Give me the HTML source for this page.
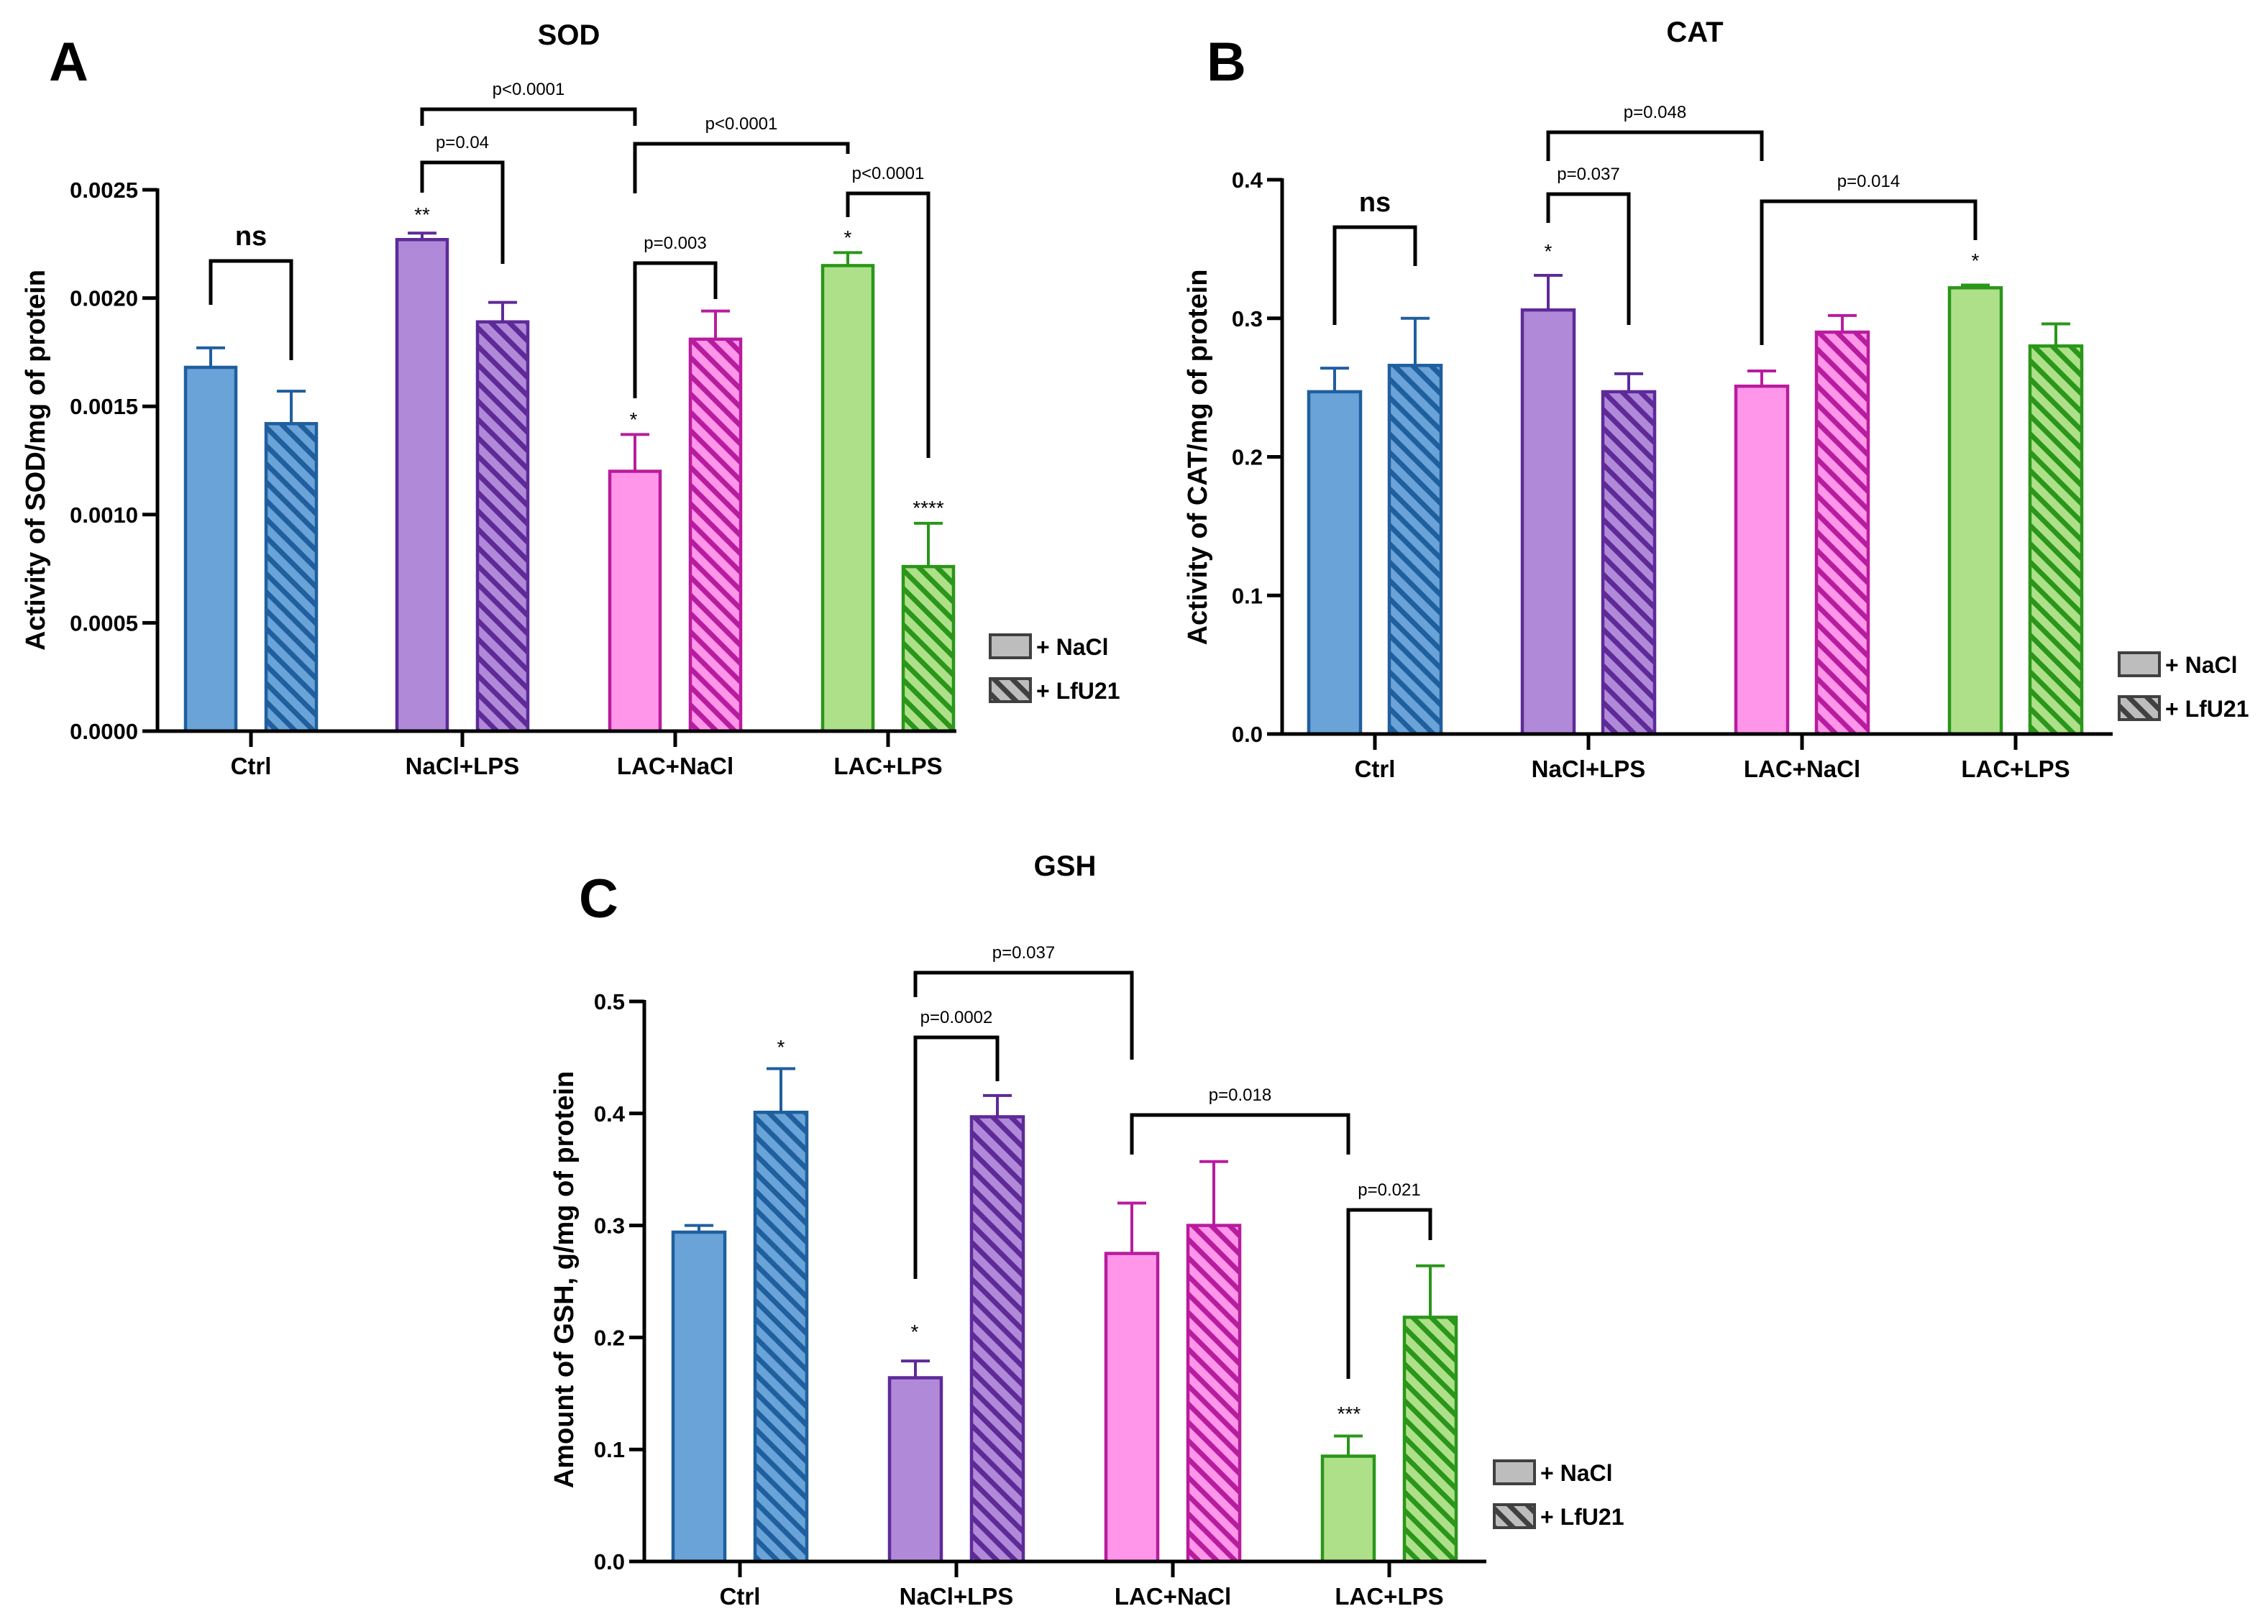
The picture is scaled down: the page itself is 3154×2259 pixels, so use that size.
<!DOCTYPE html>
<html><head><meta charset="utf-8"><style>
html,body{margin:0;padding:0;background:#fff;}
svg{display:block;font-family:"Liberation Sans",sans-serif;}
</style></head><body>
<svg id="fig" width="3154" height="2259" viewBox="0 0 3154 2259" xmlns="http://www.w3.org/2000/svg">
<defs>
<pattern id="h0" patternUnits="userSpaceOnUse" width="18" height="18" patternTransform="rotate(-45)"><rect width="18" height="18" fill="#6aa3d8"/><rect width="7" height="18" fill="#1f5f9e"/></pattern>
<pattern id="h1" patternUnits="userSpaceOnUse" width="18" height="18" patternTransform="rotate(-45)"><rect width="18" height="18" fill="#b08ad8"/><rect width="7" height="18" fill="#5e2a98"/></pattern>
<pattern id="h2" patternUnits="userSpaceOnUse" width="18" height="18" patternTransform="rotate(-45)"><rect width="18" height="18" fill="#ff96ea"/><rect width="7" height="18" fill="#b81c9e"/></pattern>
<pattern id="h3" patternUnits="userSpaceOnUse" width="18" height="18" patternTransform="rotate(-45)"><rect width="18" height="18" fill="#aee08a"/><rect width="7" height="18" fill="#2a961a"/></pattern>
<pattern id="hl" patternUnits="userSpaceOnUse" width="18" height="18" patternTransform="rotate(-45)"><rect width="18" height="18" fill="#bdbdbd"/><rect width="7" height="18" fill="#404040"/></pattern>
</defs>
</svg>
<script>
const categories = ["Ctrl","NaCl+LPS","LAC+NaCl","LAC+LPS"];
const sodNaCl = [0.00168,0.00227,0.00120,0.00215];
const sodNaClErr = [0.00177,0.00230,0.00137,0.00221];
const sodLfu = [0.00142,0.00189,0.00181,0.00076];
const sodLfuErr = [0.00157,0.00198,0.00194,0.00096];
const sodTicks = ["0.0000","0.0005","0.0010","0.0015","0.0020","0.0025"];
const catNaCl = [0.247,0.306,0.251,0.322];
const catNaClErr = [0.264,0.331,0.262,0.324];
const catLfu = [0.266,0.247,0.290,0.280];
const catLfuErr = [0.300,0.260,0.302,0.296];
const catTicks = ["0.0","0.1","0.2","0.3","0.4"];
const gshNaCl = [0.294,0.164,0.275,0.094];
const gshNaClErr = [0.300,0.179,0.320,0.112];
const gshLfu = [0.401,0.397,0.300,0.218];
const gshLfuErr = [0.440,0.416,0.357,0.264];
const gshTicks = ["0.0","0.1","0.2","0.3","0.4","0.5"];

const fills=["#6aa3d8","#b08ad8","#ff96ea","#aee08a"];
const strokes=["#1f5f9e","#5e2a98","#b81c9e","#2a961a"];
const NS="http://www.w3.org/2000/svg";
const svg=document.getElementById('fig');
function el(tag,attrs,parent,text){const e=document.createElementNS(NS,tag);for(const k in attrs)e.setAttribute(k,attrs[k]);if(text!==undefined)e.textContent=text;(parent||svg).appendChild(e);return e;}

const panels=[
 {key:"sod",letter:"A",title:"SOD",ytitle:"Activity of SOD/mg of protein",x0:219,x1:1330,y0:1017,y1:264,max:0.0025,ticksX:[349,643,939,1235],off:56,bw:70,
  nacl:sodNaCl,naclErr:sodNaClErr,lfu:sodLfu,lfuErr:sodLfuErr,ticks:sodTicks,
  letterPos:[68,112],titlePos:[791,62],ytPos:[52,640],leg:[1377,883],
  brackets:[[0,0,1,363,424,501,"ns",true],[1,0,1,226,268,367,"p=0.04"],[1,0,2,152,175,175,"p<0.0001",false,-1],[2,0,3,200,269,214,"p<0.0001",false,-1],[2,0,2.5,366,554,416,"p=0.003"],[3,0,3.5,269,302,637,"p<0.0001"]],
  stars:[[587,298,"**"],[881,583,"*"],[1179,330,"*"],[1291,706,"****"]]},
 {key:"cat",letter:"B",title:"CAT",ytitle:"Activity of CAT/mg of protein",x0:1783,x1:2938,y0:1021,y1:250,max:0.4,ticksX:[1912,2209,2506,2803],off:56,bw:72,
  nacl:catNaCl,naclErr:catNaClErr,lfu:catLfu,lfuErr:catLfuErr,ticks:catTicks,
  letterPos:[1678,112],titlePos:[2357,58],ytPos:[1668,636],leg:[2947,908],
  brackets:[[0,0,1,316,452,370,"ns",true],[1,0,2,184,224,224,"p=0.048",false,-1],[1,0,1,270,310,452,"p=0.037"],[2,0,3,280,480,334,"p=0.014",false,-1]],
  stars:[[2153,349,"*"],[2747,362,"*"]]},
 {key:"gsh",letter:"C",title:"GSH",ytitle:"Amount of GSH, g/mg of protein",x0:896,x1:2067,y0:2172,y1:1393,max:0.5,ticksX:[1029,1330,1631,1932],off:57,bw:72,
  nacl:gshNaCl,naclErr:gshNaClErr,lfu:gshLfu,lfuErr:gshLfuErr,ticks:gshTicks,
  letterPos:[805,1276],titlePos:[1481,1218],ytPos:[787,1780],leg:[2078,2032],
  brackets:[[1,0,2,1353,1387,1474,"p=0.037",false,-1],[1,0,1,1443,1779,1504,"p=0.0002"],[2,0,3,1551,1606,1606,"p=0.018",false,-1],[3,0,3.5,1683,1918,1725,"p=0.021"]],
  stars:[[1086,1456,"*"],[1272,1852,"*"],[1876,1966,"***"]]}
];

panels.forEach(p=>{
  const g=el('g',{});
  
  
  const yS=v=>p.y0-(v/p.max)*(p.y0-p.y1);
  const lt=el('text',{x:p.letterPos[0],y:p.letterPos[1],'font-size':76,'font-weight':'bold',fill:'#000'},g,p.letter);
  
  
  const tt=el('text',{x:p.titlePos[0],y:p.titlePos[1],'font-size':40,'font-weight':'bold','text-anchor':'middle'},g,p.title);
  
  
  const yt=el('text',{x:p.ytPos[0],y:p.ytPos[1],'font-size':38,'font-weight':'bold','text-anchor':'middle',transform:`rotate(-90 ${p.ytPos[0]} ${p.ytPos[1]})`,'dominant-baseline':'middle'},g,p.ytitle);
  
  
  for(let i=0;i<categories.length;i++){
    const cx=p.ticksX[i];
    [[p.nacl,p.naclErr,-1,fills[i]],[p.lfu,p.lfuErr,1,'url(#h'+i+')']].forEach(([vals,errs,s,fill])=>{
      const bx=cx+s*p.off;
      const top=yS(vals[i]), et=yS(errs[i]);
      const eb=el('line',{x1:bx,x2:bx,y1:top,y2:et,stroke:strokes[i],'stroke-width':4},g);
      
      
      const ec=el('line',{x1:bx-20,x2:bx+20,y1:et,y2:et,stroke:strokes[i],'stroke-width':4},g);
      
      
      const r=el('rect',{x:bx-p.bw/2,y:top,width:p.bw,height:p.y0-top,fill:fill,stroke:strokes[i],'stroke-width':4.5},g);
      
      
    });
  }
  const ya=el('line',{x1:p.x0,x2:p.x0,y1:p.y1-2,y2:p.y0+2.5,stroke:'#000','stroke-width':5},g);
  
  
  const xa=el('line',{x1:p.x0-2.5,x2:p.x1,y1:p.y0,y2:p.y0,stroke:'#000','stroke-width':5},g);
  
  
  p.ticks.forEach((t,k)=>{
    const y=yS(p.max*k/(p.ticks.length-1));
    const tk=el('line',{x1:p.x0-21,x2:p.x0,y1:y,y2:y,stroke:'#000','stroke-width':5},g);
    
    
    const tl=el('text',{x:p.x0-27,y:y+11,'font-size':31,'font-weight':'bold','text-anchor':'end'},g,t);
    
    
  });
  categories.forEach((c,i)=>{
    const x=p.ticksX[i];
    const tk=el('line',{x1:x,x2:x,y1:p.y0,y2:p.y0+22,stroke:'#000','stroke-width':5},g);
    
    
    const tl=el('text',{x:x,y:p.y0+60,'font-size':33,'font-weight':'bold','text-anchor':'middle'},g,c);
    
    
  });
  p.brackets.forEach(b=>{
    let xl,xr;
    const gi=b[0];
    if(b[7]){xl=p.ticksX[gi]-p.off;xr=p.ticksX[gi]+p.off;}
    else if(b[2]%1===0.5){xl=p.ticksX[gi]-p.off;xr=p.ticksX[Math.floor(b[2])]+p.off;}
    else if(b[8]===-1){xl=p.ticksX[gi]-p.off;xr=p.ticksX[b[2]]-p.off;}
    else {xl=p.ticksX[gi]-p.off;xr=p.ticksX[b[2]]+p.off;}
    const pl=el('polyline',{points:`${xl},${b[4]} ${xl},${b[3]} ${xr},${b[3]} ${xr},${b[5]}`,fill:'none',stroke:'#000','stroke-width':5},g);
    
    
    const lb=el('text',{x:(xl+xr)/2,y:b[3]-(b[7]?22:20),'font-size':b[7]?38:24,'font-weight':b[7]?'bold':'normal','text-anchor':'middle'},g,b[6]);
    
    
  });
  p.stars.forEach(s=>{
    const st=el('text',{x:s[0],y:s[1]+10,'font-size':28,'text-anchor':'middle'},g,s[2]);
    
    
  });
  const lx=p.leg[0], ly=p.leg[1];
  const l1=el('rect',{x:lx,y:ly,width:56,height:32,fill:'#bdbdbd',stroke:'#404040','stroke-width':4},g);
  
  
  const t1=el('text',{x:lx+64,y:ly+28,'font-size':32,'font-weight':'bold'},g,'+ NaCl');
  
  
  const l2=el('rect',{x:lx,y:ly+61,width:56,height:32,fill:'url(#hl)',stroke:'#404040','stroke-width':4},g);
  
  
  const t2=el('text',{x:lx+64,y:ly+89,'font-size':32,'font-weight':'bold'},g,'+ LfU21');
  
  
});
</script>
</body></html>
